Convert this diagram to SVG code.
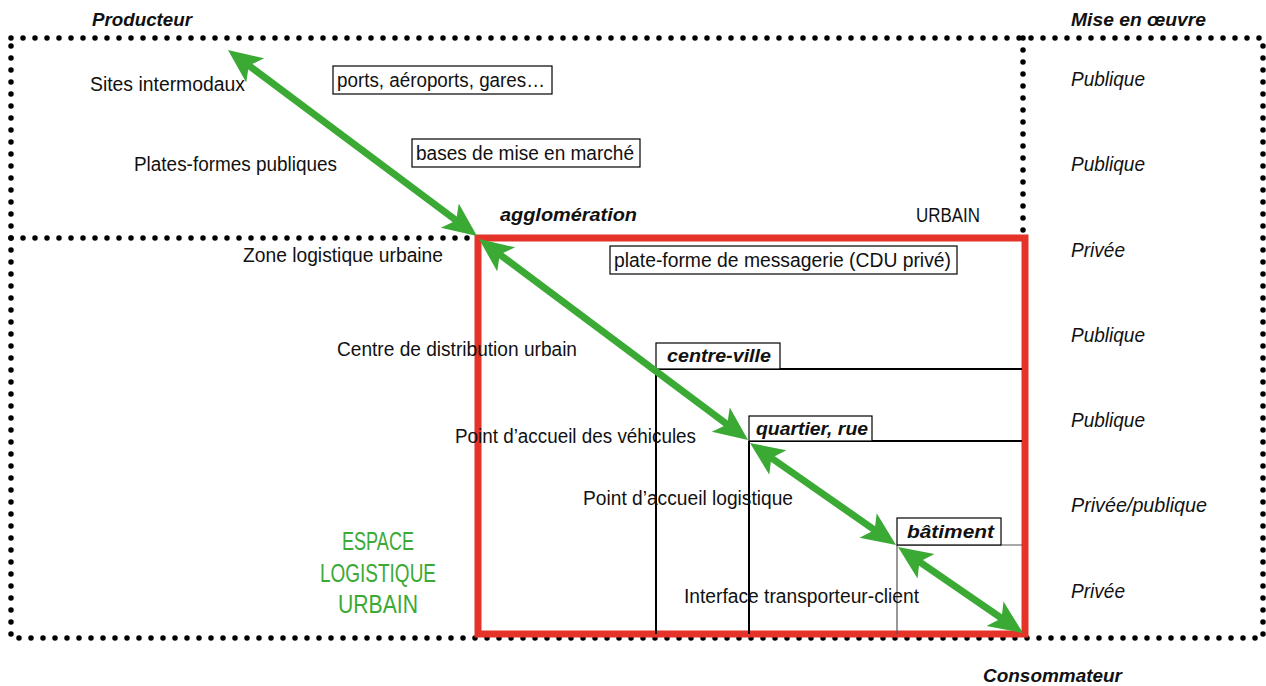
<svg xmlns="http://www.w3.org/2000/svg" width="1266" height="686" viewBox="0 0 1266 686">
<style>
.t{font-family:"Liberation Sans Narrow","Liberation Sans",Arial,sans-serif;font-size:20px;fill:#111}
.bi{font-family:"Liberation Sans Narrow","Liberation Sans",Arial,sans-serif;font-size:19px;font-weight:bold;font-style:italic;fill:#111}
.it{font-family:"Liberation Sans Narrow","Liberation Sans",Arial,sans-serif;font-size:20px;font-style:italic;fill:#111}
.g{font-family:"Liberation Sans Narrow","Liberation Sans",Arial,sans-serif;font-size:25px;fill:#3aaa35;text-anchor:middle}
.dot{fill:none;stroke:#000;stroke-width:5.5;stroke-linecap:round;stroke-dasharray:0 12}
.box{fill:#fff;stroke:#000;stroke-width:1.2}
.ln{fill:none;stroke:#000;stroke-width:2}
.arr{fill:none;stroke:#3aaa35;stroke-width:7;marker-start:url(#ah);marker-end:url(#ah)}
</style>
<defs>
<marker id="ah" viewBox="0 -16 34 32" markerUnits="userSpaceOnUse" markerWidth="34" markerHeight="32" refX="14" refY="0" orient="auto-start-reverse">
<path d="M0,-15 L34,0 L0,15 L8,0 Z" fill="#3aaa35"/>
</marker>
</defs>
<g id="frame">
<path class="dot" d="M11,38 H1263 V638 H11 Z"/>
<path class="dot" d="M11,238 H478"/>
<path class="dot" d="M1023,38 V238"/>
</g>
<g id="urbain">
<rect x="478" y="238" width="547" height="396" fill="none" stroke="#e5332a" stroke-width="7"/>
<text class="t" x="916" y="222" textLength="64" lengthAdjust="spacingAndGlyphs">URBAIN</text>
<text class="bi" x="500" y="221" textLength="137" lengthAdjust="spacingAndGlyphs">agglomération</text>
</g>
<g id="centre-ville">
<path class="ln" d="M656,369 H1022 M656,369 V634"/>
<rect class="box" x="656" y="343" width="124" height="26"/>
<text class="bi" x="667" y="362" textLength="104" lengthAdjust="spacingAndGlyphs">centre-ville</text>
</g>
<g id="quartier">
<path class="ln" d="M749,441 H1022 M749,441 V634"/>
<rect class="box" x="749" y="416" width="123" height="25"/>
<text class="bi" x="756" y="435" textLength="112" lengthAdjust="spacingAndGlyphs">quartier, rue</text>
</g>
<g id="batiment">
<path d="M897,545 H1022 M897,545 V634" fill="none" stroke="#555" stroke-width="1.2"/>
<rect class="box" x="897" y="518" width="104" height="27"/>
<text class="bi" x="907" y="538" textLength="87" lengthAdjust="spacingAndGlyphs">bâtiment</text>
</g>
<g id="boxes">
<rect class="box" x="333" y="66" width="219" height="28"/>
<text class="t" x="337" y="87" textLength="208" lengthAdjust="spacingAndGlyphs">ports, aéroports, gares…</text>
<rect class="box" x="412" y="139" width="228" height="28"/>
<text class="t" x="416" y="160" textLength="218" lengthAdjust="spacingAndGlyphs">bases de mise en marché</text>
<rect class="box" x="610" y="246" width="347" height="28"/>
<text class="t" x="614" y="267" textLength="337" lengthAdjust="spacingAndGlyphs">plate-forme de messagerie (CDU privé)</text>
</g>
<g id="labels">
<text class="bi" x="92" y="26" textLength="100" lengthAdjust="spacingAndGlyphs">Producteur</text>
<text class="bi" x="1071" y="26" textLength="135" lengthAdjust="spacingAndGlyphs">Mise en œuvre</text>
<text class="bi" x="983" y="682" textLength="139" lengthAdjust="spacingAndGlyphs">Consommateur</text>
<text class="t" x="90" y="91" textLength="155" lengthAdjust="spacingAndGlyphs">Sites intermodaux</text>
<text class="t" x="134" y="171" textLength="203" lengthAdjust="spacingAndGlyphs">Plates-formes publiques</text>
<text class="t" x="243" y="262" textLength="200" lengthAdjust="spacingAndGlyphs">Zone logistique urbaine</text>
<text class="t" x="337" y="356" textLength="240" lengthAdjust="spacingAndGlyphs">Centre de distribution urbain</text>
<text class="t" x="455" y="443" textLength="241" lengthAdjust="spacingAndGlyphs">Point d’accueil des véhicules</text>
<text class="t" x="583" y="505" textLength="210" lengthAdjust="spacingAndGlyphs">Point d’accueil logistique</text>
<text class="t" x="684" y="603" textLength="235" lengthAdjust="spacingAndGlyphs">Interface transporteur-client</text>
<text class="g" x="378" y="550" textLength="72" lengthAdjust="spacingAndGlyphs">ESPACE</text>
<text class="g" x="378" y="582" textLength="116" lengthAdjust="spacingAndGlyphs">LOGISTIQUE</text>
<text class="g" x="378" y="613" textLength="80" lengthAdjust="spacingAndGlyphs">URBAIN</text>
</g>
<g id="mise-en-oeuvre">
<text class="it" x="1071" y="86" textLength="74" lengthAdjust="spacingAndGlyphs">Publique</text>
<text class="it" x="1071" y="171" textLength="74" lengthAdjust="spacingAndGlyphs">Publique</text>
<text class="it" x="1071" y="257" textLength="54" lengthAdjust="spacingAndGlyphs">Privée</text>
<text class="it" x="1071" y="342" textLength="74" lengthAdjust="spacingAndGlyphs">Publique</text>
<text class="it" x="1071" y="427" textLength="74" lengthAdjust="spacingAndGlyphs">Publique</text>
<text class="it" x="1071" y="512" textLength="136" lengthAdjust="spacingAndGlyphs">Privée/publique</text>
<text class="it" x="1071" y="598" textLength="54" lengthAdjust="spacingAndGlyphs">Privée</text>
</g>
<g id="connectors">
<path class="arr" d="M244,62 L461,224"/>
<path class="arr" d="M495,251 L732,428"/>
<path class="arr" d="M766.4,454.5 L879.6,533.5"/>
<path class="arr" d="M914.5,558.3 L1006.5,621.7"/>
</g>
</svg>
